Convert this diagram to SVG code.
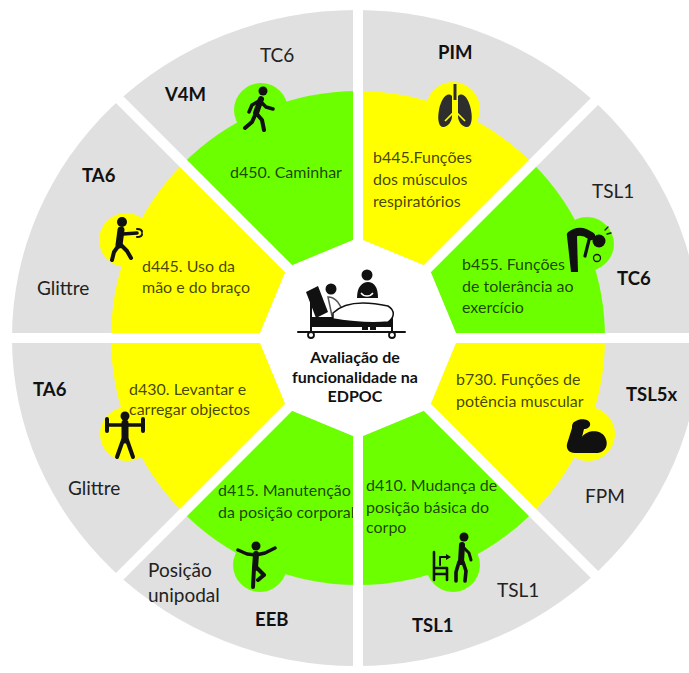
<svg xmlns="http://www.w3.org/2000/svg" width="689" height="673" viewBox="0 0 689 673">
  <style>
    text { font-family: Lato, "Liberation Sans", sans-serif; }
    .sec { font-size: 16px; fill: #000; fill-opacity: 0.74; }
    .lab { font-size: 19px; fill: #222; }
    .labb { font-size: 18.5px; font-weight: bold; fill: #111; }
    .hub { font-size: 16px; font-weight: bold; fill: #111; text-anchor: middle; }
    .yel { fill: #ffff00; }
    .grn { fill: #6cff00; }
    .ink { fill: #111; }
    .st { stroke: #111; fill: none; stroke-linecap: round; stroke-linejoin: round; }
  </style>

  <!-- outer grey ring -->
  <ellipse cx="356" cy="338" rx="344" ry="328" fill="#e0e0e0"/>

  <!-- b445: respiratory muscles -->
  <g id="node-b445">
    <path class="yel" d="M358,238 L358,91 A247,247 0 0 1 532.66,163.34 L428.71,267.29 Z"/>
    <circle class="yel" cx="453" cy="109" r="27"/>
    <rect x="453.5" y="84" width="3" height="16" fill="#2e2e2e"/>
    <path fill="#2e2e2e" d="M452,96 C447,91 441,99 439,110 C437,120 439,128 444,127 C448,126 452,122 452,116 Z"/>
    <path fill="#2e2e2e" d="M458,96 C463,91 469,99 471,110 C473,120 471,128 466,127 C462,126 458,122 458,116 Z"/>
    <path d="M445,121 L455,111 L465,121" stroke="#ffff00" stroke-width="1.6" fill="none"/>
    <text class="labb" x="438" y="59">PIM</text>
    <text class="sec" x="373" y="163">b445.Funções</text>
    <text class="sec" x="373" y="185">dos músculos</text>
    <text class="sec" x="373" y="207">respiratórios</text>
  </g>

  <!-- b455: exercise tolerance -->
  <g id="node-b455">
    <path class="grn" d="M428.71,267.29 L532.66,163.34 A247,247 0 0 1 605,338 L458,338 Z"/>
    <circle class="grn" cx="587" cy="244" r="27"/>
    <path class="st" stroke-width="8" d="M571,235 Q580,228 591,236"/>
    <path class="ink" d="M567,236 L577,236 L578,272 L571,272 Z"/>
    <path class="st" stroke-width="3.2" d="M589,240 L585,256"/>
    <circle class="ink" cx="599" cy="241" r="6.5"/>
    <path class="st" stroke-width="1.3" d="M605,230 L608,227 M607,234 L611,233"/>
    <circle class="st" stroke-width="1.3" cx="597" cy="258" r="3.5"/>
    <text class="lab" x="592" y="198">TSL1</text>
    <text class="labb" x="617" y="285">TC6</text>
    <text class="sec" x="462" y="270">b455. Funções</text>
    <text class="sec" x="462" y="292">de tolerância ao</text>
    <text class="sec" x="462" y="313">exercício</text>
  </g>

  <!-- b730: muscle power -->
  <g id="node-b730">
    <path class="yel" d="M458,338 L605,338 A247,247 0 0 1 532.66,512.66 L428.71,408.71 Z"/>
    <circle class="yel" cx="588" cy="434" r="27"/>
    <path class="ink" d="M576,421 C580,418 589,419 590,423 C591,427 587,429 584,429 L582,437 C587,430 600,429 605,437 C609,444 606,452 598,453 L575,453 C569,453 566,449 567,444 L572,428 C572,424 573,422 576,421 Z"/>
    <text class="labb" x="626" y="401">TSL5x</text>
    <text class="lab" x="585" y="503">FPM</text>
    <text class="sec" x="456" y="385">b730. Funções de</text>
    <text class="sec" x="456" y="407">potência muscular</text>
  </g>

  <!-- d410: changing basic body position -->
  <g id="node-d410">
    <path class="grn" d="M428.71,408.71 L532.66,512.66 A247,247 0 0 1 358,585 L358,438 Z"/>
    <circle class="grn" cx="453" cy="565" r="27"/>
    <path class="st" stroke-width="2.6" d="M434,552 L434,580 M434,568 L447,568 L447,580 M434,574 L447,574"/>
    <path class="st" stroke-width="2" d="M440,565 L440,557 L446,557"/>
    <path class="ink" d="M446,554 L451,557 L446,560 Z"/>
    <circle class="ink" cx="464" cy="537" r="4.5"/>
    <path class="st" stroke-width="6" d="M462,545 L461,562"/>
    <path class="st" stroke-width="3" d="M463,547 L469,553 L471,560"/>
    <path class="st" stroke-width="3.6" d="M459,562 L456,572 L456,581 M463,562 L466,571 L465,581"/>
    <text class="lab" x="497" y="597">TSL1</text>
    <text class="labb" x="412" y="632">TSL1</text>
    <text class="sec" x="366" y="491">d410. Mudança de</text>
    <text class="sec" x="366" y="513">posição básica do</text>
    <text class="sec" x="366" y="533">corpo</text>
  </g>

  <!-- d415: maintaining body position -->
  <g id="node-d415">
    <path class="grn" d="M358,438 L358,585 A247,247 0 0 1 183.34,512.66 L287.29,408.71 Z"/>
    <circle class="grn" cx="260" cy="565" r="27"/>
    <circle class="ink" cx="256" cy="546" r="4.5"/>
    <path class="st" stroke-width="3.5" d="M238,550 L247,554 L256,555 L265,553 L275,548"/>
    <path class="st" stroke-width="6" d="M256,554 L255,568"/>
    <path class="st" stroke-width="4" d="M254,568 L253,587 M257,568 L264,575 L258,580"/>
    <text class="lab" x="148" y="577">Posição</text>
    <text class="lab" x="148" y="602">unipodal</text>
    <text class="labb" x="255" y="626">EEB</text>
    <text class="sec" x="218" y="496">d415. Manutenção</text>
    <text class="sec" x="218" y="518">da posição corporal</text>
  </g>

  <!-- d430: lifting and carrying objects -->
  <g id="node-d430">
    <path class="yel" d="M287.29,408.71 L183.34,512.66 A247,247 0 0 1 111,338 L258,338 Z"/>
    <circle class="yel" cx="127" cy="434" r="27"/>
    <circle class="ink" cx="125" cy="416" r="4.5"/>
    <path class="st" stroke-width="3.5" d="M108,425 L142,425"/>
    <path class="st" stroke-width="4" d="M107,419 L107,431 M143,419 L143,431"/>
    <path class="st" stroke-width="7" d="M125,423 L125,440"/>
    <path class="st" stroke-width="4" d="M123,440 L117,457 M127,440 L133,457"/>
    <text class="labb" x="33" y="396">TA6</text>
    <text class="lab" x="68" y="495">Glittre</text>
    <text class="sec" x="129" y="395">d430. Levantar e</text>
    <text class="sec" x="129" y="415">carregar objectos</text>
  </g>

  <!-- d445: hand and arm use -->
  <g id="node-d445">
    <path class="yel" d="M258,338 L111,338 A247,247 0 0 1 183.34,163.34 L287.29,267.29 Z"/>
    <circle class="yel" cx="126" cy="240" r="27"/>
    <circle class="ink" cx="122" cy="222" r="5"/>
    <path class="st" stroke-width="7" d="M121,230 L119,245"/>
    <path class="st" stroke-width="3.5" d="M123,234 L137,233"/>
    <path class="st" stroke-width="2" d="M137,229 Q142,229 142,232 M137,237 Q142,237 142,234"/>
    <path class="st" stroke-width="4" d="M119,245 L114,252 L112,260 M121,245 L127,251 L131,258"/>
    <text class="labb" x="82" y="182">TA6</text>
    <text class="lab" x="37" y="295">Glittre</text>
    <text class="sec" x="142" y="272">d445. Uso da</text>
    <text class="sec" x="142" y="293">mão e do braço</text>
  </g>

  <!-- d450: walking -->
  <g id="node-d450">
    <path class="grn" d="M287.29,267.29 L183.34,163.34 A247,247 0 0 1 358,91 L358,238 Z"/>
    <circle class="grn" cx="261" cy="110" r="27"/>
    <circle class="ink" cx="263" cy="91" r="4.5"/>
    <path class="st" stroke-width="6" d="M261,99 L256,113"/>
    <path class="st" stroke-width="3.5" d="M259,101 L252,105 L249,112 M260,101 L266,107 L273,109"/>
    <path class="st" stroke-width="4" d="M256,113 L262,120 L264,130 M256,113 L252,122 L245,128"/>
    <text class="lab" x="260" y="62">TC6</text>
    <text class="labb" x="165" y="101">V4M</text>
    <text class="sec" x="230" y="178">d450. Caminhar</text>
  </g>

  <!-- white dividers between the eight segments -->
  <g id="connectors" stroke="#fff" stroke-width="10">
    <line x1="358" y1="0" x2="358" y2="673"/>
    <line x1="0" y1="338" x2="689" y2="338"/>
    <line x1="-42" y1="-62" x2="758" y2="738"/>
    <line x1="758" y1="-62" x2="-42" y2="738"/>
  </g>

  <!-- hub: bedside assessment -->
  <g id="node-hub">
    <polygon fill="#fff" points="358,238 428.71,267.29 458,338 428.71,408.71 358,438 287.29,408.71 258,338 287.29,267.29"/>
    <path class="st" stroke-width="2" d="M298,332 L405,332 M311,300 L311,332 M392,313 L392,332"/>
    <circle cx="311" cy="335" r="3" fill="#fff" stroke="#111" stroke-width="1.8"/>
    <circle cx="392" cy="335" r="3" fill="#fff" stroke="#111" stroke-width="1.8"/>
    <rect class="ink" x="311" y="317" width="81" height="10"/>
    <path class="ink" d="M306,292 L318,286 L328,312 L316,318 Z"/>
    <circle class="ink" cx="331" cy="289" r="5.5"/>
    <path d="M328,297 C336,297 341,305 343,313 L332,316 Z" fill="#fff" stroke="#555" stroke-width="1.5"/>
    <path d="M333,313 C345,301 365,301 388,306 C396,311 394,318 388,322 C370,324 345,321 333,319 Z" fill="#fff" stroke="#111" stroke-width="1.5"/>
    <path class="ink" d="M362,327 h6 v3 h-6 Z M370,327 h6 v3 h-6 Z"/>
    <circle class="ink" cx="367" cy="275" r="5.5"/>
    <path class="ink" d="M357,298 C357,287 362,282 368,282 C374,282 378,287 378,298 Z"/>
    <path d="M361,293 C364,297 370,297 373,293" stroke="#fff" stroke-width="1.3" fill="none"/>
    <text class="hub" x="355" y="363">Avaliação de</text>
    <text class="hub" x="355" y="383">funcionalidade na</text>
    <text class="hub" x="355" y="402">EDPOC</text>
  </g>
</svg>
